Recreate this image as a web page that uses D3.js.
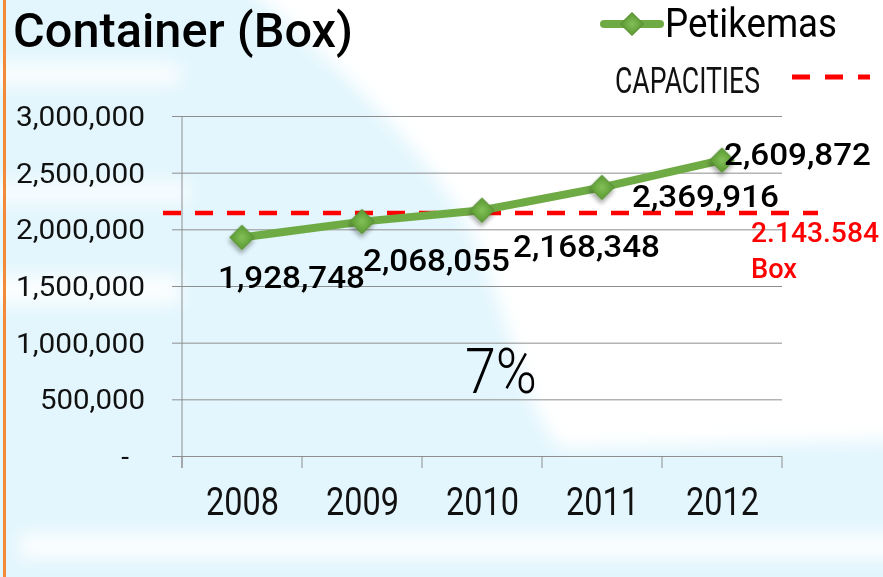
<!DOCTYPE html>
<html><head><meta charset="utf-8">
<script src="https://cdn.jsdelivr.net/npm/d3@7"></script>
<style>body{margin:0;background:#fff;} svg{display:block;}</style>
</head><body><svg id="c" width="883" height="577"></svg>
<script>
// ---- data ----
const years = ["2008", "2009", "2010", "2011", "2012"];
const petikemas = [1928748, 2068055, 2168348, 2369916, 2609872];
const pointLabels = ["1,928,748", "2,068,055", "2,168,348", "2,369,916", "2,609,872"];
const capacity = 2143584;
const capacityLabel = ["2.143.584", "Box"];
const yTicks = [0, 500000, 1000000, 1500000, 2000000, 2500000, 3000000];
const yTickLabels = ["-", "500,000", "1,000,000", "1,500,000", "2,000,000", "2,500,000", "3,000,000"];
const growthLabel = "7%";
const titleText = "Container (Box)";
const seriesName = "Petikemas";
const capacityName = "CAPACITIES";

// ---- layout / style ----
const labelOffsets = [[-24, 51], [1, 49], [31, 47], [30, 20], [2, 5]];
const green = "#6fab45", red = "#ff0000", grid = "#8e8e8e";
const svg = d3.select("#c");
const defs = svg.append("defs");
const blur = defs.append("filter").attr("id", "blur").attr("x", "-20%").attr("y", "-20%").attr("width", "140%").attr("height", "140%");
blur.append("feGaussianBlur").attr("stdDeviation", 9);
const sh = defs.append("filter").attr("id", "shadow").attr("x", "-50%").attr("y", "-50%").attr("width", "200%").attr("height", "200%");
sh.append("feDropShadow").attr("dx", 2).attr("dy", 3).attr("stdDeviation", 2).attr("flood-color", "#000").attr("flood-opacity", 0.35);
const rg = defs.append("radialGradient").attr("id", "mk");
rg.append("stop").attr("offset", "0%").attr("stop-color", "#84c058");
rg.append("stop").attr("offset", "100%").attr("stop-color", "#63a33a");

// background
svg.append("rect").attr("width", 883).attr("height", 577).attr("fill", "#e3f6fd");
const bg = svg.append("g").attr("filter", "url(#blur)").attr("fill", "#ffffff");
bg.append("path").attr("d", "M240,-20 L900,-20 L900,440 L560,448 C520,400 505,300 470,230 C420,140 330,60 240,-20 Z");
bg.append("rect").attr("x", -20).attr("y", 64).attr("width", 200).attr("height", 20).attr("opacity", 0.9);
bg.append("rect").attr("x", -20).attr("y", 182).attr("width", 210).attr("height", 20).attr("opacity", 0.8);
bg.append("rect").attr("x", -20).attr("y", 276).attr("width", 200).attr("height", 28).attr("opacity", 0.9);
bg.append("rect").attr("x", 20).attr("y", 535).attr("width", 900).attr("height", 22);
svg.append("rect").attr("x", 3).attr("y", 0).attr("width", 3).attr("height", 577).attr("fill", "#f28a3a");

// scales
const x = d3.scaleBand().domain(years).range([182, 782]);
const y = d3.scaleLinear().domain([0, 3000000]).range([456, 116]);
const cx = d => x(d) + x.bandwidth() / 2;

// gridlines + y axis
const yAxis = d3.axisLeft(y).tickValues(yTicks).tickSize(-(782 - 172)).tickFormat("");
const gy = svg.append("g").attr("transform", "translate(172,0)").call(yAxis);
gy.select(".domain").remove();
gy.selectAll("line").attr("stroke", grid).attr("stroke-width", 1);
svg.append("line").attr("x1", 182).attr("x2", 182).attr("y1", 116).attr("y2", 468).attr("stroke", grid);
// x axis ticks at band edges
svg.append("g").selectAll("line").data(d3.range(years.length + 1)).enter().append("line")
  .attr("x1", i => 182 + i * x.step()).attr("x2", i => 182 + i * x.step())
  .attr("y1", 456).attr("y2", 468).attr("stroke", grid);

// y tick labels
svg.append("g").selectAll("text").data(yTicks).enter().append("text")
  .attr("x", (d, i) => i === 0 ? 129 : 145).attr("y", d => y(d) + 10)
  .attr("text-anchor", "end").attr("font-family", "Roboto").attr("font-size", 28).attr("fill", "#111")
  .attr("textLength", (d, i) => i === 0 ? null : [0, 105, 129, 129, 129, 129, 129][i])
  .attr("lengthAdjust", "spacingAndGlyphs")
  .text((d, i) => yTickLabels[i]);
// x labels
svg.append("g").selectAll("text").data(years).enter().append("text")
  .attr("x", d => cx(d) - 36).attr("y", 515)
  .attr("font-family", "Roboto").attr("font-size", 38).attr("fill", "#111")
  .attr("textLength", 73).attr("lengthAdjust", "spacingAndGlyphs").text(d => d);

// capacity line
svg.append("line").attr("x1", 163).attr("x2", 818).attr("y1", y(capacity)).attr("y2", y(capacity))
  .attr("stroke", red).attr("stroke-width", 4.5).attr("stroke-dasharray", "18,14");

// series line
const line = d3.line().x((d, i) => cx(years[i])).y(d => y(d));
svg.append("path").datum(petikemas).attr("d", line).attr("fill", "none")
  .attr("stroke", green).attr("stroke-width", 8).attr("stroke-linejoin", "round");
const sym = d3.symbol().type(d3.symbolSquare).size(300);
svg.append("g").selectAll("path").data(petikemas).enter().append("path")
  .attr("d", sym).attr("transform", (d, i) => `translate(${cx(years[i])},${y(d)}) rotate(45)`)
  .attr("fill", "url(#mk)").attr("stroke", "#5b8d36").attr("stroke-width", 1).attr("filter", "url(#shadow)");

// data labels
svg.append("g").selectAll("text").data(petikemas).enter().append("text")
  .attr("x", (d, i) => cx(years[i]) + labelOffsets[i][0]).attr("y", (d, i) => y(d) + labelOffsets[i][1])
  .attr("font-family", "Roboto").attr("font-weight", 500).attr("font-size", 32).attr("fill", "#000")
  .attr("textLength", 147).attr("lengthAdjust", "spacingAndGlyphs")
  .text((d, i) => pointLabels[i]);

// capacity label
svg.append("text").attr("x", 751).attr("y", 242).attr("font-family", "Roboto").attr("font-weight", 500).attr("font-size", 28)
  .attr("fill", red).attr("textLength", 128).attr("lengthAdjust", "spacingAndGlyphs").text(capacityLabel[0]);
svg.append("text").attr("x", 751).attr("y", 278).attr("font-family", "Roboto").attr("font-weight", 500).attr("font-size", 28)
  .attr("fill", red).attr("textLength", 46).attr("lengthAdjust", "spacingAndGlyphs").text(capacityLabel[1]);

// growth label
svg.append("text").attr("x", 465).attr("y", 393).attr("font-family", "Roboto").attr("font-weight", 300)
  .attr("font-size", 63).attr("fill", "#000").attr("textLength", 72).attr("lengthAdjust", "spacingAndGlyphs").text(growthLabel);

// title
svg.append("text").attr("x", 13).attr("y", 47).attr("font-family", "Roboto").attr("font-weight", 500)
  .attr("font-size", 49).attr("fill", "#000").attr("textLength", 340).attr("lengthAdjust", "spacingAndGlyphs").text(titleText);

// legend
svg.append("line").attr("x1", 604).attr("x2", 660).attr("y1", 24).attr("y2", 24)
  .attr("stroke", green).attr("stroke-width", 8).attr("stroke-linecap", "round");
svg.append("path").attr("d", d3.symbol().type(d3.symbolSquare).size(260)).attr("transform", "translate(632,24) rotate(45)")
  .attr("fill", "url(#mk)").attr("stroke", "#5b8d36");
svg.append("text").attr("x", 665).attr("y", 37).attr("font-family", "Roboto").attr("font-size", 40)
  .attr("fill", "#000").attr("textLength", 172).attr("lengthAdjust", "spacingAndGlyphs").text(seriesName);
svg.append("text").attr("x", 615).attr("y", 93).attr("font-family", "Roboto").attr("font-size", 37)
  .attr("fill", "#111").attr("textLength", 145).attr("lengthAdjust", "spacingAndGlyphs").text(capacityName);
svg.append("line").attr("x1", 792).attr("x2", 870).attr("y1", 77).attr("y2", 77)
  .attr("stroke", red).attr("stroke-width", 5).attr("stroke-dasharray", "18,15");
</script></body></html>
